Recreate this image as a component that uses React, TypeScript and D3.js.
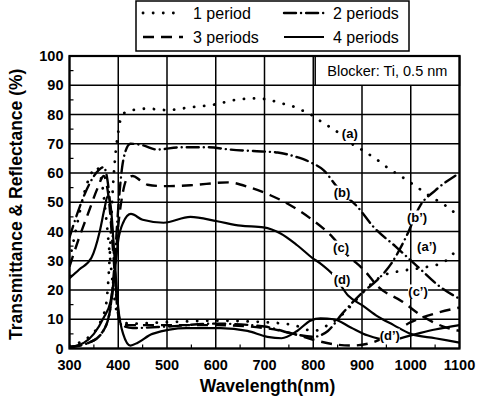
import * as d3 from 'd3'

// wavelength (nm), percent
const xTicks = [300, 400, 500, 600, 700, 800, 900, 1000, 1100]
const yTicks = [0, 10, 20, 30, 40, 50, 60, 70, 80, 90, 100]

const t1: [number, number][] = [[300, 1], [320, 2], [340, 4], [360, 8], [375, 15], [383, 33], [388, 52], [393, 64], [400, 74], [408, 80], [430, 81.5], [460, 82], [500, 81.5], [550, 82.5], [600, 83.5], [640, 85], [680, 85.5], [710, 85], [730, 84], [755, 83], [776, 81.5], [800, 79.5], [821, 77], [846, 74.5], [870, 71], [901, 67.8], [932, 64.4], [954, 61.6], [979, 59], [1010, 55.5], [1040, 52], [1070, 49], [1100, 45]]
const r1: [number, number][] = [[300, 30], [315, 42], [330, 53], [345, 60], [355, 62], [365, 58], [375, 45], [385, 28], [395, 14], [405, 9], [430, 8.5], [500, 9], [600, 9.5], [700, 9], [760, 8], [800, 6], [830, 8], [862, 12], [890, 17], [922, 22.5], [944, 25], [980, 26.5], [1020, 27.5], [1067, 29.5], [1100, 35]]
const t2: [number, number][] = [[300, 0.5], [340, 2], [365, 5], [382, 12], [392, 28], [400, 48], [408, 62], [415, 67.5], [425, 70], [450, 69.5], [480, 68], [528, 68.8], [583, 68.8], [630, 68], [677, 67.5], [727, 67], [767, 65.4], [794, 63.7], [821, 61], [850, 55], [893, 48], [924, 41.5], [968, 35], [1014, 28], [1061, 21], [1100, 17]]
const r2: [number, number][] = [[300, 38], [320, 48], [340, 56], [360, 61], [370, 62], [380, 55], [390, 35], [398, 15], [407, 8], [430, 7], [500, 7.5], [600, 8.5], [700, 7.5], [760, 5], [800, 4], [830, 6], [860, 12], [900, 19], [935, 24], [960, 29], [990, 38], [1020, 49], [1050, 54], [1100, 60]]
const t3: [number, number][] = [[300, 0.5], [340, 2], [365, 5], [382, 12], [392, 25], [400, 42], [408, 52], [418, 58], [430, 59], [445, 57.5], [460, 56], [493, 55.5], [548, 55.8], [626, 56.8], [671, 55], [712, 52.4], [753, 49], [794, 44.5], [840, 38], [870, 32], [903, 27], [934, 21], [983, 16], [1024, 11], [1067, 7.5], [1100, 6]]
const r3: [number, number][] = [[300, 28], [320, 38], [340, 47], [358, 55], [370, 59], [380, 52], [390, 32], [398, 14], [406, 8], [430, 8], [500, 8], [600, 8], [700, 7], [760, 5], [800, 3], [840, 1.5], [880, 1], [920, 2], [960, 5], [1000, 9], [1050, 12], [1100, 14]]
const t4: [number, number][] = [[300, 0.5], [330, 2], [350, 5], [370, 10.5], [384, 16], [392, 25], [400, 37], [410, 43], [426, 46], [450, 44], [493, 43], [548, 45], [603, 43.5], [651, 42], [698, 41.4], [733, 39.3], [767, 35.3], [798, 31], [815, 29], [842, 25], [872, 18], [903, 14.5], [932, 11], [965, 8], [1000, 5], [1050, 3.5], [1100, 2]]
const r4: [number, number][] = [[300, 24], [320, 27], [345, 31], [362, 40], [372, 48], [378, 52], [385, 48], [392, 32], [400, 14], [410, 5], [425, 1], [440, 2], [470, 5], [540, 7], [610, 7], [665, 6], [706, 4], [735, 3.5], [767, 6], [794, 9.5], [815, 10.3], [842, 10], [877, 7.2], [911, 4.5], [934, 3.4], [960, 3], [1000, 4.5], [1050, 6.5], [1100, 8]]

const curveLabels: [string, number, number][] = [
  ['(a)', 875, 73.5], ['(b)', 859, 53.3], ['(c)', 857, 34.5], ['(d)', 859, 23.5],
  ['(a\u2019)', 1033, 34.9], ['(b\u2019)', 1013, 44.8], ['(c\u2019)', 1015, 19.5], ['(d\u2019)', 957, 4.4],
]

const legendNames = ['1 period', '2 periods', '3 periods', '4 periods']

const styles = [
  { dash: '0.1 10', width: 2.8, cap: 'round' },
  { dash: '12 5 0.1 5', width: 2.4, cap: 'round' },
  { dash: '11 7', width: 2.4, cap: 'butt' },
  { dash: 'none', width: 2.2, cap: 'butt' },
]

const series = [
  { data: t1, s: 0 }, { data: r1, s: 0 },
  { data: t2, s: 1 }, { data: r2, s: 1 },
  { data: t3, s: 2 }, { data: r3, s: 2 },
  { data: t4, s: 3 }, { data: r4, s: 3 },
]

const FONT = 'Liberation Sans, Arial, Helvetica, sans-serif'

export default function App() {
  const W = 479, H = 400
  const m = { left: 69.5, right: 459.5, top: 56, bottom: 348.5 }
  const x = d3.scaleLinear().domain([300, 1100]).range([m.left, m.right])
  const y = d3.scaleLinear().domain([0, 100]).range([m.bottom, m.top])
  const line = d3.line<[number, number]>()
    .x(d => x(d[0])).y(d => y(d[1]))
    .curve(d3.curveMonotoneX)

  const minorX = d3.range(350, 1100, 100)
  const minorY = d3.range(5, 100, 10)

  return (
    <svg width={W} height={H} style={{ position: 'absolute', left: 0, top: 0, background: '#fff' }} fontFamily={FONT}>
      <defs>
        <clipPath id="plot">
          <rect x={m.left} y={m.top} width={m.right - m.left} height={m.bottom - m.top} />
        </clipPath>
      </defs>
      <rect width={W} height={H} fill="#fff" />

      {/* grid */}
      {xTicks.map(t => (
        <line key={'gx' + t} x1={x(t)} x2={x(t)} y1={m.top} y2={m.bottom} stroke="#000" strokeWidth={1.5} />
      ))}
      {yTicks.map(t => (
        <line key={'gy' + t} x1={m.left} x2={m.right} y1={y(t)} y2={y(t)} stroke="#000" strokeWidth={1.5} />
      ))}
      {minorX.map(t => (
        <line key={'mx' + t} x1={x(t)} x2={x(t)} y1={m.bottom} y2={m.bottom - 4} stroke="#000" strokeWidth={1.2} />
      ))}
      {minorY.map(t => (
        <line key={'my' + t} x1={m.left} x2={m.left + 4} y1={y(t)} y2={y(t)} stroke="#000" strokeWidth={1.2} />
      ))}

      {/* curves */}
      <g clipPath="url(#plot)">
        {series.map((d, i) => (
          <path key={i} d={line(d.data) || ''} fill="none" stroke="#000"
            strokeWidth={styles[d.s].width} strokeDasharray={styles[d.s].dash}
            strokeLinecap={styles[d.s].cap as any} strokeLinejoin="round" />
        ))}
      </g>

      {/* curve labels */}
      {curveLabels.map(([t, wl, v]) => (
        <g key={t}>
          <rect x={x(wl) - 10} y={y(v) - 7} width={20} height={14} fill="#fff" />
          <text x={x(wl)} y={y(v) + 4.5} textAnchor="middle" fontSize={13} fontWeight="bold">{t}</text>
        </g>
      ))}

      {/* blocker box */}
      <rect x={x(804)} y={y(100)} width={x(1100) - x(804)} height={y(90) - y(100)} fill="#fff" stroke="#000" strokeWidth={1.5} />
      <text x={(x(804) + x(1100)) / 2} y={y(95) + 5} textAnchor="middle" fontSize={14.5}>Blocker: Ti, 0.5 nm</text>

      {/* frame */}
      <rect x={m.left} y={m.top} width={m.right - m.left} height={m.bottom - m.top} fill="none" stroke="#000" strokeWidth={2.2} />

      {/* tick labels */}
      {xTicks.map(t => (
        <text key={'xl' + t} x={x(t)} y={370} textAnchor="middle" fontSize={14.5} fontWeight="bold">{t}</text>
      ))}
      {yTicks.map(t => (
        <text key={'yl' + t} x={m.left - 6} y={y(t) + 5} textAnchor="end" fontSize={14.5} fontWeight="bold">{t}</text>
      ))}

      {/* axis titles */}
      <text x={(m.left + m.right) / 2 + 3} y={392} textAnchor="middle" fontSize={17.5} fontWeight="bold">Wavelength(nm)</text>
      <text transform={`translate(22,${(m.top + m.bottom) / 2 + 2}) rotate(-90)`} textAnchor="middle" fontSize={17.5} fontWeight="bold">Transmittance &amp; Reflectance (%)</text>

      {/* legend */}
      <rect x={136} y={1} width={273} height={50} fill="#fff" stroke="#000" strokeWidth={1.5} />
      {legendNames.map((name, i) => {
        const col = i % 2, row = Math.floor(i / 2)
        const sx = col === 0 ? 143 : 284
        const ly = row === 0 ? 13 : 37
        const st = styles[i === 1 ? 1 : i === 2 ? 2 : i]
        return (
          <g key={name}>
            <line x1={sx} x2={sx + 40} y1={ly} y2={ly} stroke="#000" strokeWidth={st.width}
              strokeDasharray={st.dash} strokeLinecap={st.cap as any} />
            <text x={col === 0 ? 193 : 333} y={ly + 5.5} fontSize={16}>{name}</text>
          </g>
        )
      })}
    </svg>
  )
}
